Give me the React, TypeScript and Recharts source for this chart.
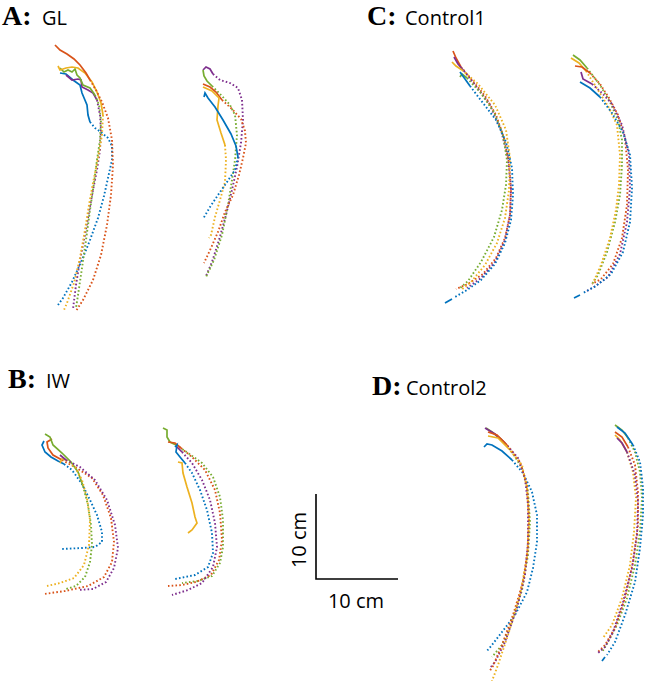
import React from "react";
import { ScatterChart, Scatter, XAxis, YAxis } from "recharts";

type P = number[];
type Run = { solid: P[]; dotted: P[]; solidEnd?: P[] };
type Trial = Record<string, Run>;

// Positions of the tracked points, in figure units (1 unit ≈ 0.118 cm)
const GL_1: Trial = {
  blue: { solid: [[60,73],[66,74],[73,80],[80,85],[82,93],[87,105],[88,115],[90,122]], dotted: [[90,122],[95,128],[102,133],[108,138],[112,146],[112,160],[108,178],[104,196],[98,218],[90,240],[82,260],[72,282],[63,298],[58,305]] },
  purple: { solid: [[66,75],[72,80],[78,79],[81,80],[82,87],[88,90],[93,93],[97,100]], dotted: [[97,100],[100,115],[101,130],[100,150],[97,170],[93,190],[89,212],[85,235],[80,260],[76,285],[73,309]] },
  green: { solid: [[60,68],[64,72],[68,70],[72,72],[75,69],[77,75],[80,78],[83,85],[90,88],[95,95]], dotted: [[95,95],[99,105],[101,120],[100,140],[97,160],[94,183],[90,210],[86,240],[82,268],[78,295],[76,308]] },
  yellow: { solid: [[58,66],[60,70],[66,68],[72,67],[78,68],[85,73],[92,82],[97,92],[101,103],[103,115]], dotted: [[103,115],[102,135],[98,158],[93,183],[89,205],[85,230],[80,258],[74,283],[67,303],[64,310]] },
  red: { solid: [[55,45],[60,50],[67,54],[74,59],[80,65],[86,73],[90,80]], dotted: [[90,80],[96,90],[102,102],[108,118],[112,140],[113,165],[111,195],[107,225],[101,255],[93,280],[83,300],[76,311]] },
};

const GL_2: Trial = {
  purple: { solid: [[203,70],[206,67],[210,69],[213,74]], dotted: [[213,74],[220,80],[230,83],[238,88],[242,100],[243,120],[241,143],[237,167],[232,190],[226,215],[219,240],[212,262],[206,276]] },
  green: { solid: [[203,70],[204,76],[207,81],[212,86]], dotted: [[212,86],[222,96],[230,105],[235,115],[237,135],[235,160],[232,180],[228,205],[222,235],[214,260],[206,277]] },
  red: { solid: [[203,84],[210,87],[216,92],[222,100]], dotted: [[222,100],[232,109],[241,119],[245,131],[246,143],[243,158],[239,175],[233,195],[225,212],[218,232],[211,248],[204,263]] },
  yellow: { solid: [[203,87],[212,91],[219,98],[218,106],[217,120],[221,133],[225,145]], dotted: [[225,145],[226,160],[225,182],[220,200],[215,217],[211,235],[209,238]] },
  blue: { solid: [[204,97],[205,93],[208,98],[215,107],[223,120],[231,134],[236,146],[238,157]], dotted: [[238,157],[235,170],[227,182],[218,195],[210,207],[203,219]] },
};

const CONTROL1_1: Trial = {
  red: { solid: [[453,51],[456,58],[461,67]], dotted: [[461,67],[472,80],[485,96],[496,115],[504,138],[509,163],[511,190],[510,215],[505,238],[496,258],[483,274],[468,284],[456,289]] },
  purple: { solid: [[454,57],[458,64],[464,71]], dotted: [[464,71],[476,86],[490,105],[501,130],[508,158],[511,188],[510,215],[505,240],[495,262],[481,278],[467,288]] },
  yellow: { solid: [[452,62],[456,66],[462,70]], dotted: [[462,70],[478,84],[495,105],[506,130],[510,158],[509,190],[505,218],[497,243],[485,265],[471,282],[461,290]] },
  green: { solid: [[460,77],[462,74],[467,78]], dotted: [[467,78],[480,92],[494,112],[503,135],[507,160],[506,185],[502,210],[494,237],[481,262],[468,281],[459,289]] },
  blue: { solid: [[460,72],[465,79],[470,86]], dotted: [[470,86],[483,103],[496,120],[506,142],[512,168],[513,195],[511,220],[505,243],[495,264],[481,280],[467,290],[455,297]], solidEnd: [[452,299],[445,303]] },
};

const CONTROL1_2: Trial = {
  green: { solid: [[573,55],[580,60],[587,68]], dotted: [[587,68],[600,85],[610,102],[618,120],[622,140],[622,165],[620,195],[615,222],[607,252],[598,275],[592,284]] },
  yellow: { solid: [[571,58],[579,63],[586,71]], dotted: [[586,71],[598,90],[609,108],[617,125],[620,155],[619,185],[616,210],[610,238],[601,265],[593,283]] },
  red: { solid: [[575,66],[582,67],[590,73]], dotted: [[590,73],[600,84],[609,98],[618,115],[625,138],[628,170],[627,205],[622,238],[613,264],[601,279],[592,284]] },
  purple: { solid: [[581,72],[583,79],[592,84]], dotted: [[592,84],[602,93],[612,104],[622,125],[629,155],[630,188],[627,222],[620,254],[608,277],[594,287],[585,292]] },
  blue: { solid: [[580,82],[590,88],[600,97]], dotted: [[600,97],[612,113],[623,132],[630,155],[632,188],[630,222],[623,252],[611,274],[596,286],[583,293]], solidEnd: [[580,295],[574,298]] },
};

const IW_1: Trial = {
  blue: { solid: [[44,441],[42,445],[45,452],[51,457],[58,461],[64,464]], dotted: [[64,464],[72,470],[82,484],[90,500],[97,515],[102,532],[102,542],[95,547],[82,548],[62,549]] },
  red: { solid: [[52,439],[47,442],[48,448],[53,455],[62,460]], dotted: [[62,460],[75,467],[92,478],[103,495],[111,518],[114,542],[112,562],[104,577],[88,586],[65,591],[44,594]] },
  green: { solid: [[45,434],[50,437],[53,445],[62,453],[71,462],[78,472],[83,486]], dotted: [[83,486],[88,505],[91,525],[92,545],[90,562],[85,577],[76,586],[66,589]] },
  yellow: { solid: [[60,463],[62,459],[66,460]], dotted: [[66,460],[75,467],[82,480],[87,498],[90,520],[89,545],[84,565],[74,578],[60,583],[47,586]] },
  purple: { solid: [[60,455],[66,460]], dotted: [[66,460],[80,467],[95,480],[107,500],[115,525],[118,548],[114,568],[106,582],[93,589],[78,590]] },
};

const IW_2: Trial = {
  green: { solid: [[163,428],[167,430],[167,437],[170,442],[176,445]], dotted: [[176,445],[188,453],[202,463],[213,477],[220,497],[223,520],[223,547],[220,563],[212,576],[198,581],[182,583]] },
  red: { solid: [[168,442],[175,443],[181,448]], dotted: [[181,448],[192,457],[205,470],[215,490],[220,513],[222,540],[219,560],[211,575],[196,582],[182,585],[168,586]] },
  blue: { solid: [[175,447],[177,445],[176,452],[180,457],[185,463]], dotted: [[185,463],[192,473],[200,490],[207,510],[212,533],[213,553],[208,567],[195,575],[175,579]] },
  purple: { solid: [[177,447],[182,452]], dotted: [[182,452],[192,463],[202,480],[210,500],[215,523],[217,547],[213,567],[202,583],[188,590],[172,595]] },
  yellow: { solid: [[178,462],[182,463],[183,473],[187,487],[192,503],[195,517],[197,523],[192,530],[188,533]], dotted: [] },
};

const CONTROL2_1: Trial = {
  blue: { solid: [[484,447],[487,444],[492,445],[502,451],[512,460]], dotted: [[512,460],[523,473],[532,492],[537,515],[537,542],[533,568],[527,592],[515,615],[502,632],[492,645],[486,652]] },
  green: { solid: [[486,428],[492,432],[502,440]], dotted: [[502,440],[512,452],[522,468],[528,492],[530,522],[528,555],[522,590],[512,622],[502,645],[492,657]] },
  purple: { solid: [[485,428],[495,434],[505,443]], dotted: [[505,443],[518,458],[525,478],[528,505],[528,542],[525,575],[517,608],[505,642],[495,662],[490,668]] },
  red: { solid: [[488,432],[497,435],[507,445]], dotted: [[507,445],[520,462],[527,485],[529,515],[528,548],[523,582],[513,615],[502,645],[493,666],[489,672]] },
  yellow: { solid: [[488,436],[498,438],[508,448]], dotted: [[508,448],[522,465],[527,488],[529,522],[527,558],[520,595],[508,635],[498,665],[492,681]] },
};

const CONTROL2_2: Trial = {
  green: { solid: [[615,425],[622,430],[628,438]], dotted: [[628,438],[635,452],[640,472],[642,498],[640,532],[635,565],[627,598],[617,625],[608,642],[602,652]] },
  blue: { solid: [[617,427],[625,433],[633,445]], dotted: [[633,445],[640,462],[643,488],[643,515],[640,548],[635,582],[625,615],[615,642],[607,655]], solidEnd: [[605,657],[602,661]] },
  red: { solid: [[615,432],[622,437],[628,447]], dotted: [[628,447],[635,465],[638,492],[638,525],[633,562],[625,598],[615,628],[605,645],[598,652]] },
  yellow: { solid: [[615,435],[620,440],[627,452]], dotted: [[627,452],[633,472],[636,498],[634,532],[630,565],[622,598],[612,625],[603,638]] },
  purple: { solid: [[617,438],[622,443],[627,452]], dotted: [[627,452],[635,475],[638,502],[637,535],[632,568],[623,602],[613,632],[605,647],[598,653]] },
};

const SCALE_BAR: P[] = [[316,494],[316,579],[398,579]];

const TRIALS: Trial[] = [GL_1, GL_2, CONTROL1_1, CONTROL1_2, IW_1, IW_2, CONTROL2_1, CONTROL2_2];

const COLORS: Record<string, string> = {
  blue: "#0072BD",
  red: "#D95319",
  yellow: "#EDB120",
  purple: "#7E2F8E",
  green: "#77AC30",
};

const W = 646;
const H = 681;

const toPts = (a: P[]) => a.map(([x, y]) => ({ x, y }));
const NoShape = () => <g />;

export default function App() {
  const series: React.ReactNode[] = [];
  TRIALS.forEach((trial, ti) => {
    Object.keys(trial).forEach((name) => {
      const run = trial[name];
      const c = COLORS[name];
      if (run.dotted.length > 1) {
        series.push(
          <Scatter
            key={`d-${ti}-${name}`}
            data={toPts(run.dotted)}
            line={{ stroke: c, strokeWidth: 1.9, strokeDasharray: "1.6 2.2" }}
            lineType="joint"
            shape={NoShape}
            fill={c}
            isAnimationActive={false}
          />
        );
      }
      if (run.solid.length > 1) {
        series.push(
          <Scatter
            key={`s-${ti}-${name}`}
            data={toPts(run.solid)}
            line={{ stroke: c, strokeWidth: 1.7 }}
            lineType="joint"
            shape={NoShape}
            fill={c}
            isAnimationActive={false}
          />
        );
      }
      if (run.solidEnd && run.solidEnd.length > 1) {
        series.push(
          <Scatter
            key={`e-${ti}-${name}`}
            data={toPts(run.solidEnd)}
            line={{ stroke: c, strokeWidth: 1.7 }}
            lineType="joint"
            shape={NoShape}
            fill={c}
            isAnimationActive={false}
          />
        );
      }
    });
  });

  const serif = "'Liberation Serif', 'Times New Roman', serif";
  const sans = "'Open Sans', 'Noto Sans', sans-serif";

  return (
    <div style={{ position: "absolute", left: 0, top: 0, width: W, height: H, background: "#fff" }}>
      <ScatterChart width={W} height={H} margin={{ top: 0, right: 0, bottom: 0, left: 0 }}>
        <XAxis type="number" dataKey="x" domain={[0, W]} hide />
        <YAxis type="number" dataKey="y" domain={[0, H]} reversed hide />
        {series}
        <Scatter
          data={toPts(SCALE_BAR)}
          line={{ stroke: "#000", strokeWidth: 1.6 }}
          lineType="joint"
          shape={NoShape}
          fill="#000"
          isAnimationActive={false}
        />
      </ScatterChart>
      <svg width={W} height={H} style={{ position: "absolute", left: 0, top: 0, pointerEvents: "none" }}>
        <text x={2} y={25} fontFamily={serif} fontWeight="bold" fontSize={28}>A:</text>
        <text x={42} y={25} fontFamily={sans} fontSize={20}>GL</text>
        <text x={367} y={25} fontFamily={serif} fontWeight="bold" fontSize={28}>C:</text>
        <text x={405} y={25} fontFamily={sans} fontSize={20}>Control1</text>
        <text x={8} y={388} fontFamily={serif} fontWeight="bold" fontSize={28}>B:</text>
        <text x={46} y={388} fontFamily={sans} fontSize={20}>IW</text>
        <text x={372} y={395} fontFamily={serif} fontWeight="bold" fontSize={28}>D:</text>
        <text x={406} y={395} fontFamily={sans} fontSize={20}>Control2</text>
        <text x={0} y={0} fontFamily={sans} fontSize={20} textAnchor="middle" transform="translate(306 540) rotate(-90)">10 cm</text>
        <text x={356} y={608} fontFamily={sans} fontSize={20} textAnchor="middle">10 cm</text>
      </svg>
    </div>
  );
}
